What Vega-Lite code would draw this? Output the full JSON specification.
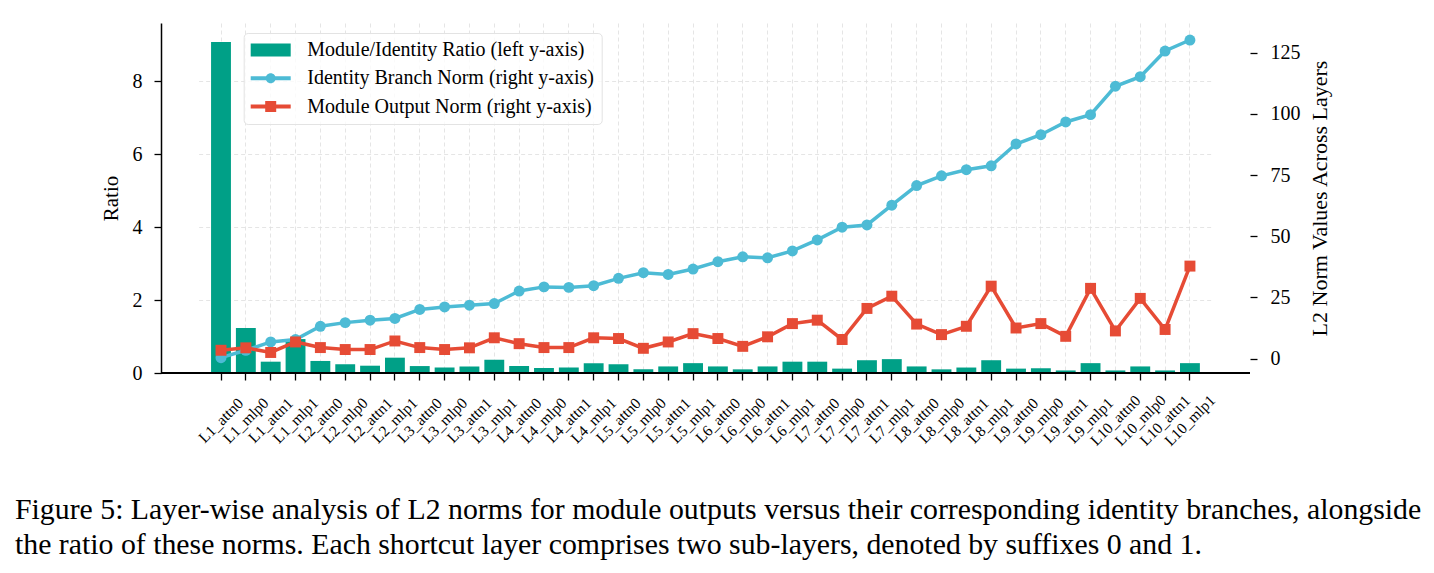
{
  "$schema": "https://vega.github.io/schema/vega-lite/v6.json",
  "width": 1089,
  "height": 350,
  "autosize": {"type": "none"},
  "padding": {"left": 161, "top": 23, "right": 184, "bottom": 200},
  "background": "white",
  "title": {
    "text": [
      "Figure 5: Layer-wise analysis of L2 norms for module outputs versus their corresponding identity branches, alongside",
      "the ratio of these norms. Each shortcut layer comprises two sub-layers, denoted by suffixes 0 and 1."
    ],
    "orient": "bottom",
    "anchor": "start",
    "frame": "group",
    "font": "Liberation Serif",
    "fontSize": 29.8,
    "fontWeight": "normal",
    "color": "black",
    "lineHeight": 35,
    "baseline": "top",
    "dx": -146,
    "offset": 46
  },
  "data": {
    "values": [
      {"layer": "L1_attn0", "ratio": 9.07, "identity": 0.37, "module": 3.4},
      {"layer": "L1_mlp0", "ratio": 1.23, "identity": 3.4, "module": 4.4},
      {"layer": "L1_attn1", "ratio": 0.31, "identity": 6.8, "module": 2.5},
      {"layer": "L1_mlp1", "ratio": 0.93, "identity": 7.8, "module": 6.8},
      {"layer": "L2_attn0", "ratio": 0.33, "identity": 13.2, "module": 4.5},
      {"layer": "L2_mlp0", "ratio": 0.24, "identity": 14.7, "module": 3.7},
      {"layer": "L2_attn1", "ratio": 0.2, "identity": 15.7, "module": 3.7},
      {"layer": "L2_mlp1", "ratio": 0.42, "identity": 16.4, "module": 7.2},
      {"layer": "L3_attn0", "ratio": 0.19, "identity": 20.1, "module": 4.5},
      {"layer": "L3_mlp0", "ratio": 0.15, "identity": 21.1, "module": 3.7},
      {"layer": "L3_attn1", "ratio": 0.18, "identity": 21.8, "module": 4.4},
      {"layer": "L3_mlp1", "ratio": 0.36, "identity": 22.5, "module": 8.5},
      {"layer": "L4_attn0", "ratio": 0.19, "identity": 27.6, "module": 6.1},
      {"layer": "L4_mlp0", "ratio": 0.14, "identity": 29.3, "module": 4.5},
      {"layer": "L4_attn1", "ratio": 0.15, "identity": 29.1, "module": 4.5},
      {"layer": "L4_mlp1", "ratio": 0.27, "identity": 29.8, "module": 8.5},
      {"layer": "L5_attn0", "ratio": 0.24, "identity": 32.8, "module": 8.2},
      {"layer": "L5_mlp0", "ratio": 0.1, "identity": 35.1, "module": 4.2},
      {"layer": "L5_attn1", "ratio": 0.18, "identity": 34.4, "module": 6.8},
      {"layer": "L5_mlp1", "ratio": 0.27, "identity": 36.6, "module": 10.2},
      {"layer": "L6_attn0", "ratio": 0.18, "identity": 39.6, "module": 8.2},
      {"layer": "L6_mlp0", "ratio": 0.1, "identity": 41.6, "module": 5.0},
      {"layer": "L6_attn1", "ratio": 0.18, "identity": 41.2, "module": 8.9},
      {"layer": "L6_mlp1", "ratio": 0.31, "identity": 44.0, "module": 14.3},
      {"layer": "L7_attn0", "ratio": 0.31, "identity": 48.5, "module": 15.7},
      {"layer": "L7_mlp0", "ratio": 0.12, "identity": 53.7, "module": 7.8},
      {"layer": "L7_attn1", "ratio": 0.35, "identity": 54.6, "module": 20.5},
      {"layer": "L7_mlp1", "ratio": 0.38, "identity": 62.7, "module": 25.5},
      {"layer": "L8_attn0", "ratio": 0.18, "identity": 70.7, "module": 14.1},
      {"layer": "L8_mlp0", "ratio": 0.1, "identity": 74.7, "module": 9.8},
      {"layer": "L8_attn1", "ratio": 0.15, "identity": 77.2, "module": 13.2},
      {"layer": "L8_mlp1", "ratio": 0.35, "identity": 78.8, "module": 29.6},
      {"layer": "L9_attn0", "ratio": 0.12, "identity": 87.7, "module": 12.5},
      {"layer": "L9_mlp0", "ratio": 0.13, "identity": 91.5, "module": 14.3},
      {"layer": "L9_attn1", "ratio": 0.07, "identity": 96.7, "module": 9.1},
      {"layer": "L9_mlp1", "ratio": 0.27, "identity": 99.7, "module": 28.7},
      {"layer": "L10_attn0", "ratio": 0.07, "identity": 111.3, "module": 11.3},
      {"layer": "L10_mlp0", "ratio": 0.18, "identity": 115.2, "module": 24.6},
      {"layer": "L10_attn1", "ratio": 0.07, "identity": 125.7, "module": 11.9},
      {"layer": "L10_mlp1", "ratio": 0.27, "identity": 130.2, "module": 37.8}
    ]
  },
  "layer": [
    {
      "encoding": {
        "y": {
          "field": "ratio",
          "type": "quantitative",
          "scale": {"domain": [0, 9.59], "nice": false, "zero": false},
          "axis": {
            "title": "Ratio",
            "values": [0, 2, 4, 6, 8],
            "grid": true,
            "labelFontSize": 20,
            "titleFontSize": 21,
            "labelPadding": 12,
            "titlePadding": 11
          }
        }
      },
      "layer": [
        {
          "mark": {"type": "bar"},
          "encoding": {
            "x": {
              "field": "layer",
              "type": "nominal",
              "sort": null,
              "scale": {"paddingInner": 0.2, "paddingOuter": 0.5, "range": [37.64, 1051.3]},
              "axis": {
                "title": null,
                "domain": false,
                "labelAngle": -45,
                "labelAlign": "center",
                "labelBaseline": "middle",
                "labelPadding": 40,
                "labelFontSize": 15.5,
                "labelOverlap": false,
                "labelBound": false,
                "grid": true
              }
            },
            "color": {
              "datum": "ratio",
              "type": "nominal",
              "scale": {
                "domain": ["ratio", "identity", "module"],
                "range": ["#00A087", "#4DBBD5", "#E64B35"]
              },
              "legend": null
            }
          }
        },
        {
          "mark": {"type": "rule", "color": "black", "strokeWidth": 1.5},
          "encoding": {
            "y": {"datum": 0, "type": "quantitative"}
          }
        }
      ]
    },
    {
      "transform": [{"fold": ["identity", "module"], "as": ["series", "norm"]}],
      "encoding": {
        "x": {"field": "layer", "type": "nominal", "sort": null},
        "y": {
          "field": "norm",
          "type": "quantitative",
          "scale": {"domain": [-5.89, 137.15], "nice": false, "zero": false},
          "axis": {
            "orient": "right",
            "title": "L2 Norm Values Across Layers",
            "values": [0, 25, 50, 75, 100, 125],
            "grid": false,
            "domain": false,
            "labelFontSize": 20,
            "titleFontSize": 22,
            "titleAngle": 270,
            "titleBaseline": "top",
            "labelPadding": 13,
            "titlePadding": 9
          }
        }
      },
      "layer": [
        {
          "mark": {"type": "line", "strokeWidth": 3.5},
          "encoding": {
            "color": {"field": "series", "type": "nominal", "legend": null}
          }
        },
        {
          "mark": {"type": "point", "filled": true, "opacity": 1, "size": 120, "strokeWidth": 0},
          "encoding": {
            "shape": {
              "field": "series",
              "type": "nominal",
              "scale": {"domain": ["identity", "module"], "range": ["circle", "square"]},
              "legend": null
            },
            "color": {
              "field": "series",
              "type": "nominal",
              "legend": {
                "orient": "none",
                "legendX": 82.7,
                "legendY": 10,
                "title": null,
                "labelFont": "Liberation Serif",
                "labelFontSize": 20,
                "labelColor": "black",
                "labelLimit": 500,
                "labelOffset": 36.6,
                "symbolSize": 400,
                "symbolStrokeWidth": 0,
                "symbolOpacity": 1,
                "symbolType": {"expr": "datum.value === 'ratio' ? 'M-1,-0.64H3V0.64H-1Z' : datum.value === 'identity' ? 'M-1,-0.2H3V0.2H-1Z M0.5,0A0.5,0.5 0 1,1 1.5,0A0.5,0.5 0 1,1 0.5,0Z' : 'M-1,-0.2H3V0.2H-1Z M0.45,-0.55H1.55V0.55H0.45Z'"},
                "padding": 7,
                "rowPadding": 8.3,
                "strokeColor": "#e3e3e3",
                "fillColor": "rgba(255,255,255,0.8)",
                "cornerRadius": 4,
                "labelExpr": "datum.value === 'ratio' ? 'Module/Identity Ratio (left y-axis)' : datum.value === 'identity' ? 'Identity Branch Norm (right y-axis)' : 'Module Output Norm (right y-axis)'"
              }
            }
          }
        }
      ],
      "resolve": {"legend": {"color": "independent", "shape": "independent"}}
    }
  ],
  "resolve": {
    "scale": {"y": "independent"},
    "legend": {"color": "independent", "shape": "independent"}
  },
  "config": {
    "font": "Liberation Serif",
    "view": {"stroke": null},
    "axis": {
      "labelFont": "Liberation Serif",
      "titleFont": "Liberation Serif",
      "labelColor": "black",
      "titleColor": "black",
      "titleFontWeight": "normal",
      "domainColor": "black",
      "domainWidth": 1.5,
      "tickColor": "black",
      "tickSize": 7,
      "tickWidth": 1.3,
      "gridColor": "#dedede",
      "gridDash": [4, 3],
      "gridWidth": 0.8
    }
  }
}
